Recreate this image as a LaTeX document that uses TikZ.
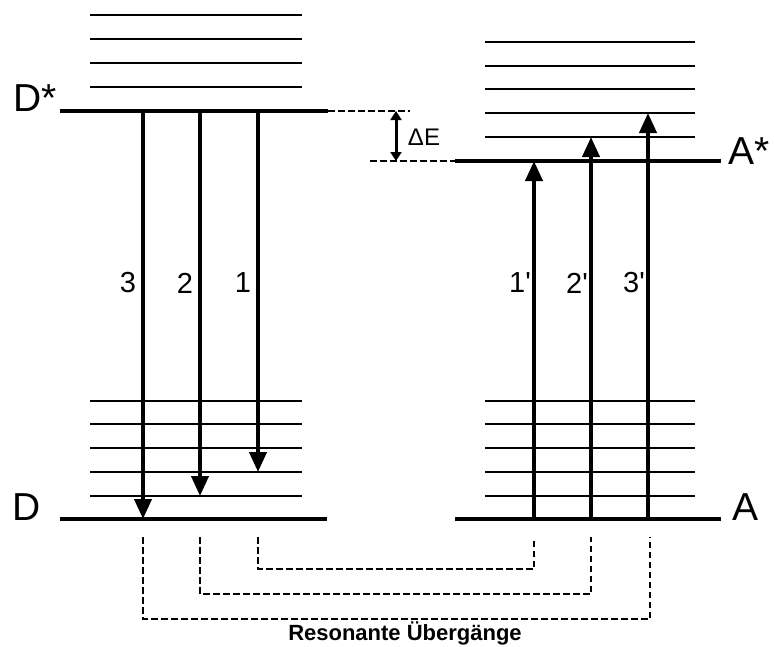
\documentclass[tikz,border=0pt]{standalone}
\usepackage{fontspec}
\setmainfont{Liberation Sans}
\usetikzlibrary{arrows.meta}
\tikzset{
  level/.style={line width=4.5pt},
  sublevel/.style={line width=2pt},
  trans/.style={-{Triangle[length=20pt,width=17pt]}, line width=4pt},
  gap/.style={{Triangle[length=9pt,width=11pt]}-{Triangle[length=9pt,width=11pt]}, line width=3pt},
  reso/.style={dash pattern=on 6.5pt off 3.5pt, line width=1.4pt},
  guide/.style={dash pattern=on 6.5pt off 3.5pt, line width=1.4pt},
  statelab/.style={font=\fontsize{39}{44}\selectfont, inner sep=0pt},
  numlab/.style={font=\fontsize{29}{33}\selectfont, inner sep=0pt},
}

\begin{document}
\begin{tikzpicture}[x=1pt,y=-1pt]
  \useasboundingbox (0,0) rectangle (774,646);

  % donor levels (left)
  \foreach \y in {15,39,63,87,401,424,448,472,496}{\draw[sublevel] (90,\y) -- (302,\y);}
  \draw[level] (60,111) -- (328,111);
  \draw[level] (60,519) -- (327,519);
  \node[statelab] (Dst) at (35,98) {D*};
  \node[statelab] (D) at (27,507) {D};

  % acceptor levels (right)
  \foreach \y in {42,66,89,113,137,401,424,448,472,496}{\draw[sublevel] (485,\y) -- (695,\y);}
  \draw[level] (455,161) -- (721,161);
  \draw[level] (455,519) -- (721,519);
  \node[statelab] (Ast) at (749,151) {A*};
  \node[statelab] (A) at (745,507) {A};

  % energy gap
  \coordinate (gtop) at (396,111);
  \coordinate (gbot) at (396,161);
  \draw[guide] (328,111) -- (410,111);
  \draw[guide] (370,161) -- (455,161);
  \draw[gap] (gtop) -- (gbot);
  \node[font=\fontsize{24}{28}\selectfont, inner sep=0pt] (dE) at (424,137) {ΔE};

  % donor transitions (down)
  \foreach \x/\tip/\n in {143/519/3, 200/496/2, 258/472/1}{
    \coordinate (d\n s) at (\x,111);
    \coordinate (d\n e) at (\x,\tip);
    \draw[trans] (d\n s) -- (d\n e);
    \node[numlab] (l\n) at ({\x-15},283) {\n};
  }

  % acceptor transitions (up)
  \foreach \x/\tip/\n in {534/161/1, 591/137/2, 648/113/3}{
    \coordinate (a\n s) at (\x,519);
    \coordinate (a\n e) at (\x,\tip);
    \draw[trans] (a\n s) -- (a\n e);
    \node[numlab] (m\n) at ({\x-14},283) {\n\textquotesingle};
  }

  % resonant pairs
  \foreach \xa/\xb/\yb in {258/534/569, 200/591/594, 143/650/619}{
    \draw[reso] (\xa,537) -- (\xa,\yb) -- (\xb,\yb) -- (\xb,537);
  }
  \node[font=\bfseries\fontsize{22}{26}\selectfont, inner sep=0pt] (reso) at (405,633) {Resonante Übergänge};
\end{tikzpicture}
\end{document}
